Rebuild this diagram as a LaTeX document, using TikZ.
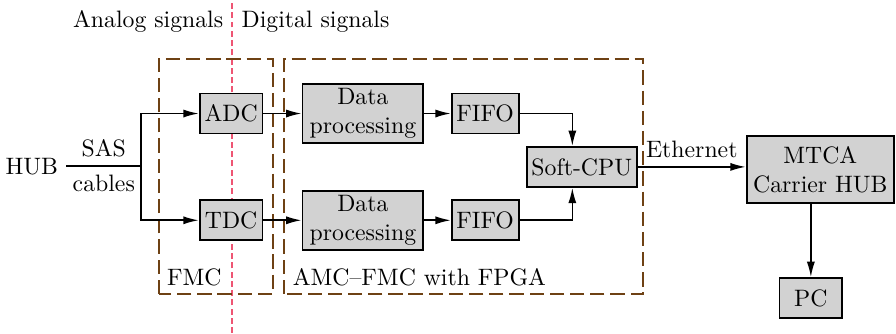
\documentclass[tikz,border=0pt]{standalone}
\usepackage{tikz}
\usetikzlibrary{arrows.meta}
\definecolor{fmcbrown}{RGB}{110,65,20}
\definecolor{sigred}{RGB}{238,85,115}
\tikzset{
    blk/.style={draw, line width=0.75pt, fill=gray!35, inner sep=2pt,
        minimum width=0.93cm, minimum height=0.59cm, align=center},
    grp/.style={draw=fmcbrown, line width=0.85pt, dash pattern=on 6pt off 2.5pt},
    sig/.style={->, line width=0.7pt, >={Latex[length=6.5pt,width=3.4pt]}},
}
\begin{document}
\begin{tikzpicture}
            \useasboundingbox (0,0) rectangle (13.26,4.93);

            % 模拟/数字分界线
            \draw[sigred, line width=0.85pt, dash pattern=on 2.5pt off 1.4pt] (3.44,0) -- (3.44,4.93);
            \node[anchor=base east, inner sep=0pt] (analog) at (3.31,4.53) {Analog signals};
            \node[anchor=base west, inner sep=0pt] (digital) at (3.57,4.53) {Digital signals};

            % 两个虚线框 (FMC 与 AMC-FMC)
            \draw[grp] (2.35,0.58) rectangle (4.04,4.06);
            \node[anchor=south west] (fmclbl) at (2.35,0.58) {FMC};
            \draw[grp] (4.21,0.58) rectangle (9.52,4.06);
            \node[anchor=south west] (amclbl) at (4.21,0.58) {AMC--FMC with FPGA};

            % 各个模块
            \node (hub) at (0.47,2.47) {HUB};
            \coordinate (split) at (2.09,2.47);
            \node[blk] (adc) at (3.42,3.25) {ADC};
            \node[blk] (tdc) at (3.42,1.67) {TDC};
            \node[blk, inner xsep=3pt, minimum height=0.87cm] (dp1) at (5.37,3.25) {Data\\processing};
            \node[blk, inner xsep=3pt, minimum height=0.87cm] (dp2) at (5.37,1.67) {Data\\processing};
            \node[blk] (fifo1) at (7.18,3.25) {FIFO};
            \node[blk] (fifo2) at (7.18,1.67) {FIFO};
            \node[blk] (cpu) at (8.61,2.46) {Soft-CPU};
            \node[blk, inner xsep=2.7pt, minimum height=0.99cm] (mtca) at (12.14,2.42) {MTCA\\Carrier HUB};
            \node[blk] (pc) at (12.0,0.52) {PC};
            \coordinate (cpuin) at ([xshift=-0.14cm]cpu.north);
            \coordinate (cpuin2) at ([xshift=-0.14cm]cpu.south);

            % 连线
            \draw[line width=0.7pt] (hub) -- (split)
                node[midway, above] (sas) {SAS}
                node[midway, below] (cables) {cables};
            \draw[sig] (split) |- (adc);
            \draw[sig] (split) |- (tdc);
            \draw[sig] (adc) -- (dp1);
            \draw[sig] (tdc) -- (dp2);
            \draw[sig] (dp1) -- (fifo1);
            \draw[sig] (dp2) -- (fifo2);
            \draw[sig] (fifo1) -| (cpuin);
            \draw[sig] (fifo2) -| (cpuin2);
            \draw[sig] (cpu.east) -- (cpu.east -| mtca.west)
                node[midway, above] (eth) {Ethernet};
            \draw[sig] (pc.north |- mtca.south) -- (pc.north);

        \end{tikzpicture}
\end{document}
